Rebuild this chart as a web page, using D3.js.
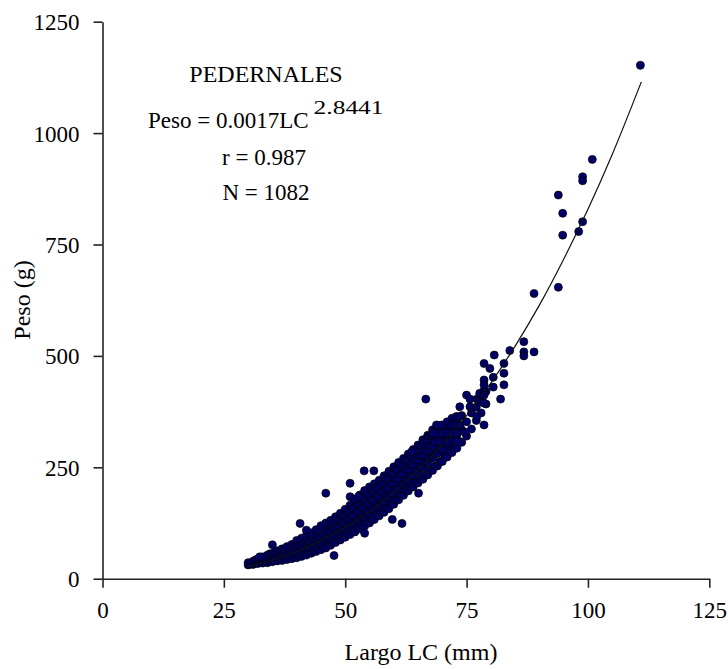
<!DOCTYPE html>
<html>
<head>
<meta charset="utf-8">
<script src="https://cdn.jsdelivr.net/npm/d3@7"></script>
<style>
  body { margin: 0; background: #fff; }
  text { font-family: "Liberation Serif", "Times New Roman", "DejaVu Serif", serif; fill: #000; }
</style>
</head>
<body>
<div id="wrapper"></div>
<script>
// axis ticks
const ticksLargo = [0, 25, 50, 75, 100, 125]
const ticksPeso = [0, 250, 500, 750, 1000, 1250]

// main cloud: columns every half mm of Largo LC, Peso values
const columnasLargo = [30, 30.5, 31, 31.5, 32, 32.5, 33, 33.5, 34, 34.5, 35, 35.5, 36, 36.5, 37, 37.5,
  38, 38.5, 39, 39.5, 40, 40.5, 41, 41.5, 42, 42.5, 43, 43.5, 44, 44.5, 45, 45.5, 46, 46.5, 47, 47.5,
  48, 48.5, 49, 49.5, 50, 50.5, 51, 51.5, 52, 52.5, 53, 53.5, 54, 54.5, 55, 55.5, 56, 56.5, 57, 57.5,
  58, 58.5, 59, 59.5, 60, 60.5, 61, 61.5, 62, 62.5, 63, 63.5, 64, 64.5, 65, 65.5, 66, 66.5, 67, 67.5,
  68, 68.5, 69, 69.5, 70, 70.5, 71, 71.5, 72, 72.5, 73, 73.5, 74, 75, 76, 77, 78, 79, 80.5]
const columnasPeso = [
  [31, 36], [33], [32, 39], [35, 42], [34, 40, 45], [37, 44], [35, 42, 49], [39, 46],
  [36, 44, 53], [40, 48, 56], [38, 46, 55], [42, 50, 60], [40, 48, 57, 63], [44, 53, 61],
  [41, 50, 59, 67], [46, 55, 64], [43, 52, 62, 72], [48, 58, 68], [45, 55, 65, 77], [50, 61, 72],
  [47, 57, 68, 80, 86], [52, 63, 75], [50, 60, 72, 84, 91], [55, 67, 79],
  [53, 64, 76, 88, 97], [59, 71, 84], [57, 68, 81, 94, 103], [62, 75, 89],
  [61, 73, 86, 99, 110], [67, 80, 94], [65, 78, 92, 106, 119], [72, 86, 100],
  [69, 83, 97, 112, 125], [77, 91, 106], [75, 89, 104, 118, 131], [82, 97, 112, 126],
  [81, 95, 111, 125, 139], [88, 103, 118, 133], [87, 102, 118, 133, 147], [94, 110, 126, 141],
  [93, 109, 125, 141, 156], [100, 117, 133, 150], [99, 116, 133, 150, 165], [107, 124, 142, 158],
  [105, 123, 141, 159, 175], [113, 131, 150, 168], [112, 131, 150, 169, 188], [120, 139, 159, 179],
  [118, 138, 158, 179, 198], [127, 147, 168, 188], [125, 146, 167, 188, 206], [134, 155, 176, 197],
  [133, 154, 175, 196, 213], [142, 163, 185, 205], [141, 162, 184, 205, 221], [150, 172, 194, 214],
  [149, 171, 193, 214, 231], [158, 181, 203, 224], [157, 180, 203, 225, 241], [167, 190, 213, 235],
  [167, 190, 213, 235, 251], [177, 200, 223, 245], [177, 200, 224, 246, 261], [187, 211, 234, 255],
  [187, 211, 235, 256, 270], [197, 221, 245, 265], [197, 221, 245, 266, 280], [206, 231, 255, 276],
  [206, 231, 256, 276, 290], [215, 241, 265, 287], [215, 241, 266, 287, 300], [224, 251, 276, 298],
  [223, 250, 277, 300, 312], [233, 261, 287, 310], [233, 260, 287, 311, 322], [243, 271, 298, 320],
  [243, 271, 298, 322, 334], [253, 281, 308, 331], [253, 281, 309, 333, 344], [263, 291, 318],
  [263, 291, 319, 343], [276, 304, 330], [273, 301, 330, 352], [286, 314, 340],
  [283, 311, 340, 360], [296, 324, 350], [293, 322, 352], [308, 336],
  [306, 334, 366], [320, 352], [336, 372], [355, 385], [372, 400], [392, 420], [430, 452]
]

// scattered points away from the main cloud
const dispersosLargo = [32.4, 35, 40.7, 42, 47.7, 46, 51, 51, 52, 52.7, 53.9, 55.9, 54, 59.7, 61.7,
  63.7, 65.1, 66.6, 68.2, 68.5, 68.8, 69.4, 69.9, 69.9, 70.9, 70.9, 71.9, 71.9, 72.6, 72.9, 72.9,
  72.9, 73.6, 73.6, 73.6, 74.6, 75, 75.7, 75.7, 77.1, 77.1, 77.7, 77.7, 78.6, 78.6, 78.6, 78.6,
  78.6, 78.6, 78.6, 79.8, 80.7, 82, 82.7, 82.7, 82.7, 83.9, 86.8, 86.8, 86.8, 88.9, 88.9, 93.9,
  93.9, 94.8, 94.8, 98.1, 98.9, 98.9, 98.9, 100.9, 110.8]
const dispersosPeso = [49, 76, 124, 109, 52, 192, 214, 184, 178, 184, 242, 242, 102, 133, 124,
  285, 192, 403, 326, 307, 345, 307, 345, 326, 326, 307, 345, 326, 345, 326, 307,
  364, 364, 345, 386, 329, 412, 403, 386, 403, 364, 416, 397, 423, 412, 394, 345,
  446, 435, 483, 472, 502, 403, 483, 461, 435, 512, 532, 509, 500, 509, 640, 654,
  861, 820, 771, 779, 801, 902, 893, 941, 1152]

// fitted curve Peso = 0.0017 LC^2.8441
const curvaLargo = [30, 35, 40, 45, 50, 55, 60, 65, 70, 75, 80, 85, 90, 95, 100, 105, 111]
const curvaPeso = [27, 42, 61, 86, 115, 151, 194, 243, 301, 366, 439, 522, 614, 717, 829, 952, 1115]

const anotacion = ["PEDERNALES", "r = 0.987", "N = 1082"]

const dms = {
  width: 728,
  height: 669,
  margin: { top: 21.7, right: 18.7, bottom: 90.3, left: 102.5 },
}
dms.boundedWidth = dms.width - dms.margin.left - dms.margin.right
dms.boundedHeight = dms.height - dms.margin.top - dms.margin.bottom

const wrapper = d3.select("#wrapper")
  .append("svg")
  .attr("width", dms.width)
  .attr("height", dms.height)
  .attr("font-family", "'Liberation Serif', serif")

const bounds = wrapper.append("g")
  .attr("transform", `translate(${dms.margin.left},${dms.margin.top})`)

const xScale = d3.scaleLinear()
  .domain([0, 125])
  .range([0, dms.boundedWidth])

const yScale = d3.scaleLinear()
  .domain([0, 1250])
  .range([dms.boundedHeight, 0])

// points
const muestras = []
columnasLargo.forEach((lc, i) => {
  columnasPeso[i].forEach(p => muestras.push({ largo: lc, peso: p }))
})
dispersosLargo.forEach((lc, i) => muestras.push({ largo: lc, peso: dispersosPeso[i] }))

bounds.append("g")
  .selectAll("circle")
  .data(muestras)
  .join("circle")
  .attr("cx", d => xScale(d.largo))
  .attr("cy", d => yScale(d.peso))
  .attr("r", 4)
  .attr("fill", "#000066")
  .attr("stroke", "#000")
  .attr("stroke-width", 0.7)

// trend line
const curva = curvaLargo.map((lc, i) => ({ largo: lc, peso: curvaPeso[i] }))
const lineGenerator = d3.line()
  .x(d => xScale(d.largo))
  .y(d => yScale(d.peso))
  .curve(d3.curveCatmullRom)

bounds.append("path")
  .datum(curva)
  .attr("d", lineGenerator)
  .attr("fill", "none")
  .attr("stroke", "#111")
  .attr("stroke-width", 1.2)

// axes
const xAxis = bounds.append("g")
  .attr("transform", `translate(0,${dms.boundedHeight})`)
  .call(d3.axisBottom(xScale).tickValues(ticksLargo).tickFormat(d3.format("d"))
    .tickSize(9).tickSizeOuter(0).tickPadding(14))

const yAxis = bounds.append("g")
  .call(d3.axisLeft(yScale).tickValues(ticksPeso).tickFormat(d3.format("d"))
    .tickSize(9).tickSizeOuter(0).tickPadding(14))

bounds.selectAll(".domain, .tick line")
  .attr("stroke", "#222")
  .attr("stroke-width", 1.6)

bounds.selectAll(".tick text")
  .style("font-family", "'Liberation Serif', 'Times New Roman', serif")
  .style("font-size", "23px")
  .attr("fill", "#000")

xAxis.selectAll(".tick text").attr("dy", "0.71em")
yAxis.selectAll(".tick text").attr("dy", "0.35em")

wrapper.append("text")
  .attr("x", 421)
  .attr("y", 660)
  .attr("text-anchor", "middle")
  .style("font-size", "24px")
  .text("Largo LC (mm)")

wrapper.append("text")
  .attr("transform", "translate(30,300) rotate(-90)")
  .attr("text-anchor", "middle")
  .style("font-size", "24px")
  .text("Peso (g)")

// annotation
wrapper.append("text")
  .attr("x", 266)
  .attr("y", 82)
  .attr("text-anchor", "middle")
  .style("font-size", "24px")
  .text(anotacion[0])

const ecuacion = wrapper.append("text")
  .attr("x", 148)
  .attr("y", 128)
  .style("font-size", "23px")
ecuacion.append("tspan").text("Peso = 0.0017LC")
ecuacion.append("tspan")
  .attr("dx", 5)
  .attr("dy", -14)
  .style("font-size", "18px")
  .attr("textLength", 70)
  .attr("lengthAdjust", "spacingAndGlyphs")
  .text("2.8441")

wrapper.append("text")
  .attr("x", 264)
  .attr("y", 165)
  .attr("text-anchor", "middle")
  .style("font-size", "23px")
  .text(anotacion[1])

wrapper.append("text")
  .attr("x", 266)
  .attr("y", 200)
  .attr("text-anchor", "middle")
  .style("font-size", "23px")
  .text(anotacion[2])
</script>
</body>
</html>
